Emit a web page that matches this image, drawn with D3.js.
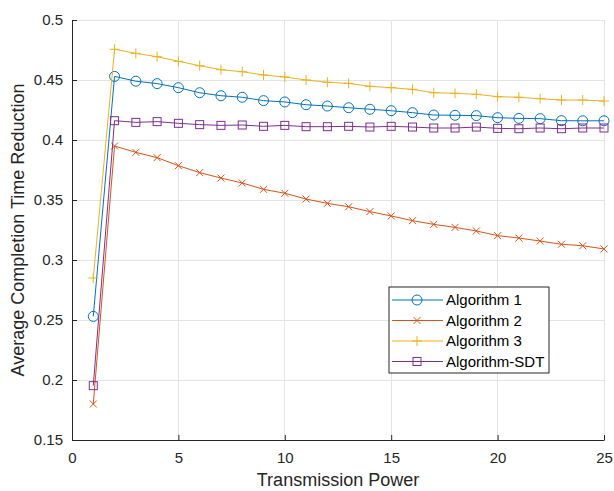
<!DOCTYPE html>
<html>
<head>
<meta charset="utf-8">
<script src="https://cdn.jsdelivr.net/npm/d3@7"></script>
<style>
  html, body { margin: 0; padding: 0; background: #fff; }
  svg { display: block; font-family: "Liberation Sans", Arial, sans-serif; }
</style>
</head>
<body>
<svg id="chart" width="614" height="491"></svg>
<script>
// Transmission power levels
const power = d3.range(1, 26);

// Average completion time reduction per algorithm
const alg1 = [0.253, 0.453, 0.449, 0.447, 0.4436, 0.4394, 0.4369, 0.4356, 0.4328, 0.4317,
  0.4294, 0.4283, 0.4269, 0.4256, 0.4244, 0.4228, 0.4208, 0.4206, 0.4203, 0.4186,
  0.418, 0.4178, 0.4161, 0.416, 0.416];
const alg2 = [0.18, 0.395, 0.3897, 0.3853, 0.3786, 0.3728, 0.3683, 0.3642, 0.3589, 0.3556,
  0.3508, 0.3472, 0.3444, 0.3403, 0.3367, 0.3328, 0.3297, 0.3272, 0.3242, 0.3203,
  0.3183, 0.3158, 0.3131, 0.3119, 0.3092];
const alg3 = [0.285, 0.4756, 0.4722, 0.4694, 0.4656, 0.4619, 0.4586, 0.4569, 0.4542, 0.4525,
  0.45, 0.4481, 0.4472, 0.4447, 0.4436, 0.4422, 0.4394, 0.4389, 0.4381, 0.4361,
  0.4356, 0.4344, 0.4333, 0.4333, 0.4325];
const algSDT = [0.1953, 0.4161, 0.4147, 0.4153, 0.4139, 0.4128, 0.4122, 0.4125, 0.4114, 0.4122,
  0.4111, 0.4111, 0.4114, 0.4108, 0.4114, 0.4108, 0.41, 0.41, 0.4108, 0.4097,
  0.4094, 0.41, 0.4094, 0.41, 0.41];

const seriesNames = ["Algorithm 1", "Algorithm 2", "Algorithm 3", "Algorithm-SDT"];
const seriesValues = [alg1, alg2, alg3, algSDT];
const seriesColors = ["#0072BD", "#D95319", "#EDB120", "#7E2F8E"];
const seriesMarkers = ["circle", "cross", "plus", "square"];

const xTicks = [0, 5, 10, 15, 20, 25];
const yTicks = [0.15, 0.2, 0.25, 0.3, 0.35, 0.4, 0.45, 0.5];

const svg = d3.select("#chart");
const L = 72, R = 604, T = 20, B = 440;

const x = d3.scaleLinear().domain([0, 25]).range([L, R]);
const y = d3.scaleLinear().domain([0.15, 0.5]).range([B, T]);

const axisColor = "#262626";
const gridColor = "#e3e3e3";

// grid
const grid = svg.append("g");
grid.selectAll(".gx").data(xTicks.slice(1)).join("line")
  .attr("x1", d => x(d)).attr("x2", d => x(d))
  .attr("y1", T).attr("y2", B)
  .attr("stroke", gridColor).attr("stroke-width", 1).attr("shape-rendering", "crispEdges");
grid.selectAll(".gy").data(yTicks.slice(1)).join("line")
  .attr("x1", L).attr("x2", R)
  .attr("y1", d => y(d)).attr("y2", d => y(d))
  .attr("stroke", gridColor).attr("stroke-width", 1).attr("shape-rendering", "crispEdges");

// axes with inward ticks
const xAxis = d3.axisBottom(x).tickValues(xTicks).tickSizeInner(-5).tickSizeOuter(0)
  .tickFormat(d3.format("d"));
const yAxis = d3.axisLeft(y).tickValues(yTicks).tickSizeInner(-5).tickSizeOuter(0)
  .tickPadding(9).tickFormat(d => String(+d.toFixed(2)));

const gx = svg.append("g").attr("transform", `translate(0,${B})`).call(xAxis);
const gy = svg.append("g").attr("transform", `translate(${L},0)`).call(yAxis);
[gx, gy].forEach(g => {
  g.select(".domain").attr("stroke", axisColor).attr("stroke-width", 1);
  g.selectAll(".tick line").attr("stroke", axisColor);
  g.selectAll(".tick text").attr("fill", axisColor)
    .style("font-family", '"Liberation Sans", Arial, sans-serif').style("font-size", "15px");
});
gx.selectAll(".tick text").attr("y", 23).attr("dy", 0);

// axis titles
svg.append("text")
  .attr("x", 338).attr("y", 486)
  .attr("text-anchor", "middle").attr("fill", axisColor)
  .style("font-size", "18px").text("Transmission Power");
svg.append("text")
  .attr("transform", `translate(24,230) rotate(-90)`)
  .attr("text-anchor", "middle").attr("fill", axisColor)
  .style("font-size", "18px").text("Average Completion Time Reduction");

// marker drawing
function drawMarker(g, type, color) {
  if (type === "circle") {
    g.append("circle").attr("r", 5).attr("fill", "none").attr("stroke", color).attr("stroke-width", 1);
  } else if (type === "square") {
    g.append("rect").attr("x", -4).attr("y", -4).attr("width", 8).attr("height", 8)
      .attr("fill", "none").attr("stroke", color).attr("stroke-width", 1);
  } else if (type === "cross") {
    g.append("path").attr("d", "M-3.5,-3.5L3.5,3.5M-3.5,3.5L3.5,-3.5")
      .attr("stroke", color).attr("stroke-width", 1).attr("fill", "none");
  } else if (type === "plus") {
    g.append("path").attr("d", "M-5,0L5,0M0,-5L0,5")
      .attr("stroke", color).attr("stroke-width", 1).attr("fill", "none");
  }
}

const line = d3.line().x((d, i) => x(power[i])).y(d => y(d));

seriesValues.forEach((vals, si) => {
  const g = svg.append("g");
  g.append("path").datum(vals).attr("d", line)
    .attr("fill", "none").attr("stroke", seriesColors[si]).attr("stroke-width", 1);
  vals.forEach((v, i) => {
    const m = g.append("g").attr("transform", `translate(${x(power[i])},${y(v)})`);
    drawMarker(m, seriesMarkers[si], seriesColors[si]);
  });
});

// legend
const lg = svg.append("g").attr("transform", "translate(389,287)");
lg.append("rect").attr("width", 160).attr("height", 86)
  .attr("fill", "#fff").attr("stroke", axisColor).attr("stroke-width", 1);
seriesNames.forEach((name, i) => {
  const yy = 13 + i * 20.5;
  lg.append("line").attr("x1", 3).attr("x2", 54).attr("y1", yy).attr("y2", yy)
    .attr("stroke", seriesColors[i]).attr("stroke-width", 1);
  const m = lg.append("g").attr("transform", `translate(28,${yy})`);
  drawMarker(m, seriesMarkers[i], seriesColors[i]);
  lg.append("text").attr("x", 57).attr("y", yy).attr("dy", "0.35em")
    .attr("fill", "#000").style("font-size", "15px").text(name);
});
</script>
</body>
</html>
